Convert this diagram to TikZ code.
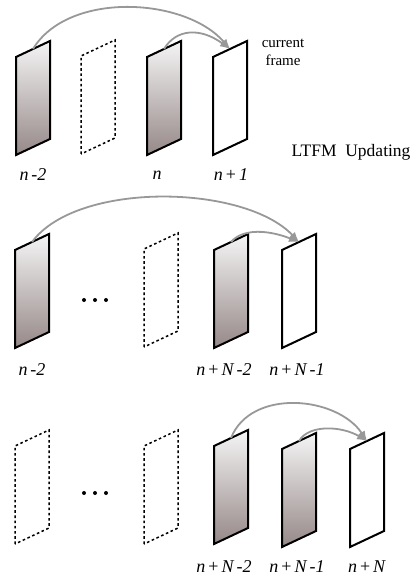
\documentclass[tikz,border=0pt]{standalone}
\usepackage{fontspec}
\setmainfont{Liberation Serif}
\usetikzlibrary{arrows.meta}
\definecolor{framebot}{RGB}{150,136,136}
\definecolor{linkgray}{RGB}{152,152,152}

% frame: name, style, x and y of the lower left corner
\newcommand{\frm}[4]{%
  \draw[#2] (#3,#4) -- ++(0,-98) -- ++(34,-16) -- ++(0,98) -- cycle;
  \coordinate (#1) at (#3+17,#4-106);}

\tikzset{
  gframe/.style={line width=2pt,line join=miter,top color=white!96!black,bottom color=framebot},
  wframe/.style={line width=2pt,line join=miter,fill=white},
  dframe/.style={line width=1.5pt,dash pattern=on 2.6pt off 2.6pt},
  link/.style={draw=linkgray,line width=1.8pt,-{Latex[length=10pt,width=8pt]}},
  lab/.style={font=\fontsize{18}{20}\selectfont},
}

\begin{document}
\begin{tikzpicture}[x=1pt,y=-1pt]
  \useasboundingbox (0,0) rectangle (416,580);

  % first row
  \frm{r1a}{gframe}{16}{155}
  \frm{r1b}{dframe}{81}{154}
  \frm{r1c}{gframe}{147}{155}
  \frm{r1d}{wframe}{213}{155}
  \draw[link] (r1a) .. controls +(35,-58) and +(-45,-52) .. (r1d);
  \draw[link] (r1c) .. controls +(12,-20) and +(-30,-22) .. (r1d);
  \node[lab] (n1a) at (33,175) {\textit{n\,-2}};
  \node[lab] (n1c) at (157,175) {\textit{n}};
  \node[lab] (n1d) at (231,175) {\textit{n}\,+\,\textit{1}};
  \node[font=\fontsize{15}{18}\selectfont,align=center] (cur) at (283,52) {current\\frame};
  \node[font=\fontsize{17.5}{20}\selectfont] (upd) at (351,152) {LTFM\ \ Updating};

  % second row
  \frm{r2a}{gframe}{15}{348}
  \foreach \x in {84,95,106}
    \fill (\x,300) circle (2pt);
  \frm{r2b}{dframe}{144}{347}
  \frm{r2c}{gframe}{214}{348}
  \frm{r2d}{wframe}{282}{348}
  \draw[link] (r2a) .. controls +(45,-61) and +(-55,-58) .. (r2d);
  \draw[link] (r2c) .. controls +(12,-14) and +(-30,-12) .. (r2d);
  \node[lab] (n2a) at (32,370) {\textit{n\,-2}};
  \node[lab] (n2c) at (224,370) {\textit{n}\,+\,\textit{N\,-2}};
  \node[lab] (n2d) at (297,370) {\textit{n}\,+\,\textit{N\,-1}};

  % third row
  \frm{r3a}{dframe}{15}{544}
  \foreach \x in {84,95,106}
    \fill (\x,493) circle (2pt);
  \frm{r3b}{dframe}{144}{544}
  \frm{r3c}{gframe}{214}{544}
  \frm{r3d}{gframe}{282}{547}
  \frm{r3e}{wframe}{350}{547}
  \draw[link] (r3c) .. controls +(20,-50) and +(-30,-45) .. (r3e);
  \draw[link] (r3d) .. controls +(10,-17) and +(-25,-15) .. (r3e);
  \node[lab] (n3c) at (224,567) {\textit{n}\,+\,\textit{N\,-2}};
  \node[lab] (n3d) at (297,567) {\textit{n}\,+\,\textit{N\,-1}};
  \node[lab] (n3e) at (367,567) {\textit{n}\,+\,\textit{N}};
\end{tikzpicture}
\end{document}
